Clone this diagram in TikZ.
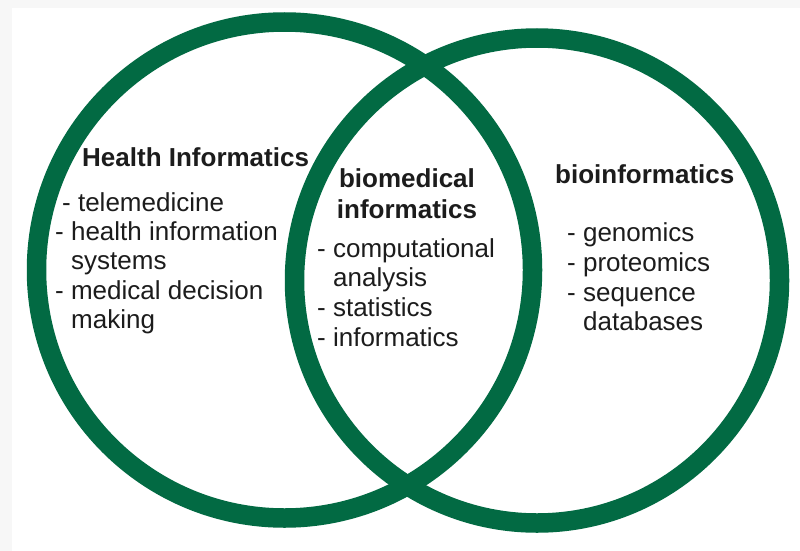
\documentclass[tikz,border=0pt]{standalone}
\usepackage{fontspec}
\setmainfont{Liberation Sans}
\definecolor{ringgreen}{RGB}{2,106,67}
\definecolor{inkgrey}{RGB}{28,28,28}
\begin{document}
\begin{tikzpicture}[x=1pt,y=-1pt,
  ring/.style={draw=ringgreen,line width=19.5pt},
  txt/.style={anchor=base west,inner sep=0pt,text=inkgrey,font=\fontsize{26}{30}\selectfont},
  head/.style={txt,font=\fontsize{26}{30}\selectfont\bfseries},
  chead/.style={head,anchor=base}]
\useasboundingbox (0,0) rectangle (800,551);
\fill[white] (0,0) rectangle (800,551);
% faint margin strips along the top and left edges
\fill[black!3] (0,0) rectangle (800,8);
\fill[black!3] (0,0) rectangle (12,551);

% the two overlapping rings
\draw[ring] (284.5,270) circle (248pt);
\draw[ring] (537,280.5) circle (242.5pt);

% left field
\node[head] (hHead) at (82,166) {Health Informatics};
\node[txt] (hL1) at (62,211) {- telemedicine};
\node[txt] (hL2) at (55,240) {- health information};
\node[txt] (hL3) at (71,269) {systems};
\node[txt] (hL4) at (55,299) {- medical decision};
\node[txt] (hL5) at (71,328) {making};

% overlap
\node[chead] (mHead1) at (407,187) {biomedical};
\node[chead] (mHead2) at (407,218) {informatics};
\node[txt] (mL1) at (317,257) {- computational};
\node[txt] (mL2) at (333,286) {analysis};
\node[txt] (mL3) at (317,316) {- statistics};
\node[txt] (mL4) at (317,346) {- informatics};

% right field
\node[head] (rHead) at (555,183) {bioinformatics};
\node[txt] (rL1) at (567,241) {- genomics};
\node[txt] (rL2) at (567,271) {- proteomics};
\node[txt] (rL3) at (567,301) {- sequence};
\node[txt] (rL4) at (583,330) {databases};
\end{tikzpicture}
\end{document}
